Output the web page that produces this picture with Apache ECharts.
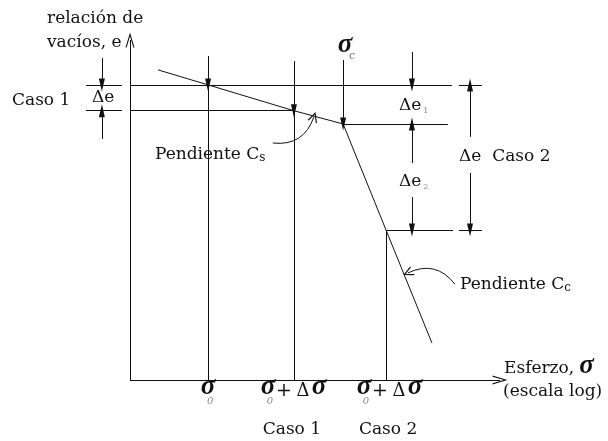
<!DOCTYPE html>
<html>
<head>
<meta charset="utf-8">
<script src="https://cdn.jsdelivr.net/npm/echarts@6/dist/echarts.min.js"></script>
<style>
  html, body { margin: 0; padding: 0; background: #fff; }
  #chart { width: 608px; height: 441px; }
</style>
</head>
<body>
<div id="chart"></div>
<script>
// Stress positions on the logarithmic axis
const sigma0 = 2.11;      // σ0
const sigmaCase1 = 4.43;  // σ0 + Δσ (caso 1)
const sigmaC = 5.76;      // σc, preconsolidation stress
const sigmaCase2 = 6.92;  // σ0 + Δσ (caso 2)

// Void ratio levels
const e0 = 8.68;
const e1 = 7.92;
const eC = 7.53;
const e2 = 4.41;

// e – log σ curve: recompression branch (slope Cs) then virgin branch (slope Cc)
const curveLogSigma = [0.76, sigma0, sigmaCase1, sigmaC, sigmaCase2, 8.16];
const curveVoidRatio = [9.12, e0, e1, eC, e2, 1.09];

// Labels along the stress axis
const stressTickLabels = ['σ0', 'σ0 + Δσ', 'σ0 + Δσ'];
const caseLabels = ['', 'Caso 1', 'Caso 2'];

const INK = '#111';
const FONT = '"DejaVu Serif", serif';
const SIGMA_FONT = '"Liberation Serif", serif';

const chart = echarts.init(document.getElementById('chart'), null, { renderer: 'canvas' });

const curve = curveLogSigma.map((x, i) => [x, curveVoidRatio[i]]);
const seg = (a, b) => [{ coord: a }, { coord: b }];

const markBase = {
  silent: true,
  animation: false,
  label: { show: false },
  emphasis: { disabled: true }
};

// Open chevron head (tip at the top of the symbol box)
const CHEVRON = 'path://M5,0 L10,14 L8.7,14 L5,3.6 L1.3,14 L0,14 Z';
// Narrow filled head for dimension arrows
const SOLID = 'path://M5,0 L10,14 L0,14 Z';

const option = {
  animation: false,
  grid: { left: 0.5, right: 108, top: 40, bottom: 61 },
  xAxis: { type: 'value', min: -3.5, max: 10, show: false },
  yAxis: { type: 'value', min: 0, max: 10, show: false },
  series: [
    {
      name: 'curva',
      type: 'line',
      data: curve,
      symbol: 'none',
      silent: true,
      lineStyle: { color: INK, width: 1 }
    },
    {
      name: 'ejes',
      type: 'line',
      data: [],
      markLine: Object.assign({}, markBase, {
        symbol: ['none', CHEVRON],
        symbolSize: [9, 15],
        lineStyle: { color: INK, width: 1, type: 'solid' },
        data: [seg([0, 0], [10, 0]), seg([0, 0], [0, 10])]
      })
    },
    {
      name: 'guias',
      type: 'line',
      data: [],
      markLine: Object.assign({}, markBase, {
        symbol: ['none', 'none'],
        lineStyle: { color: INK, width: 1, type: 'solid' },
        data: [
          seg([0, e0], [8.70, e0]),
          seg([0, e1], [sigmaCase1, e1]),
          seg([sigmaC, eC], [8.59, eC]),
          seg([sigmaCase2, e2], [8.73, e2]),
          seg([8.89, e0], [9.51, e0]),
          seg([8.89, e2], [9.51, e2]),
          seg([-1.19, e0], [-0.22, e0]),
          seg([-1.19, e1], [-0.22, e1]),
          seg([sigma0, 0], [sigma0, e0]),
          seg([sigmaCase1, 0], [sigmaCase1, e1]),
          seg([sigmaCase2, 0], [sigmaCase2, e2])
        ]
      })
    },
    {
      name: 'cotas',
      type: 'line',
      data: [],
      markLine: Object.assign({}, markBase, {
        symbol: ['none', SOLID],
        symbolSize: [6, 13],
        lineStyle: { color: INK, width: 1, type: 'solid' },
        data: [
          seg([sigma0, 9.53], [sigma0, e0]),
          seg([sigmaCase1, 9.38], [sigmaCase1, e1]),
          seg([sigmaC, 9.41], [sigmaC, eC]),
          seg([-0.76, 9.47], [-0.76, e0]),
          seg([-0.76, 7.09], [-0.76, e1]),
          seg([7.62, 9.65], [7.62, e0]),
          seg([7.62, 6.38], [7.62, eC]),
          seg([7.62, 5.38], [7.62, e2]),
          seg([9.19, 7.15], [9.19, e0]),
          seg([9.19, 6.09], [9.19, e2])
        ]
      })
    },
    {
      // curved leaders pointing at each slope
      name: 'pendientes',
      type: 'lines',
      coordinateSystem: 'cartesian2d',
      silent: true,
      animation: false,
      symbol: ['none', CHEVRON],
      symbolSize: [8, 10],
      lineStyle: { color: INK, width: 1, type: 'solid', opacity: 1, curveness: -0.4 },
      data: [
        { coords: [[3.86, 6.97], [4.97, 7.74]] },
        { coords: [[8.78, 2.82], [7.51, 3.15]] }
      ]
    }
  ]
};

chart.setOption(option);

// ---- text annotations ----
const measureCtx = document.createElement('canvas').getContext('2d');
function fontStr(o) {
  return (o.style || '') + ' ' + (o.weight || '') + ' ' + (o.size || 17) + 'px ' + (o.family || FONT);
}
function width(s, o) {
  measureCtx.font = fontStr(o || {});
  return measureCtx.measureText(s).width;
}
function label(x, y, s, o) {
  o = o || {};
  return {
    type: 'text', x: x, y: y, silent: true, z: 10,
    style: {
      text: s,
      fill: o.fill || INK,
      font: fontStr(o),
      align: o.align || 'left',
      verticalAlign: 'middle'
    }
  };
}
const sigmaStyle = { style: 'italic', weight: 'bold', size: 27, family: SIGMA_FONT, align: 'center' };
const subStyle = { style: 'italic', size: 10, fill: '#8a8a8a', align: 'center' };

const px = v => chart.convertToPixel({ xAxisIndex: 0 }, v);
const g = [];

// y-axis title
g.push(label(47, 19, 'relación de'));
g.push(label(47, 43, 'vacíos, e'));

// Caso 1 bracket on the left
g.push(label(12, 101, 'Caso 1'));
g.push(label(92, 98, 'Δe'));

// σc above the break point
const xc = px(sigmaC);
g.push(label(xc + 2, 45, 'σ', sigmaStyle));
g.push(label(xc + 9, 56, 'c', { size: 11, fill: '#777', align: 'center' }));

// Δe1 and Δe2
g.push(label(399, 106, 'Δe'));
g.push(label(399 + width('Δe') + 2, 111, '1', { size: 8, fill: '#8a8a8a' }));
g.push(label(399, 182, 'Δe'));
g.push(label(399 + width('Δe') + 2, 187, '2', { size: 8, fill: '#8a8a8a' }));

// Δe Caso 2 on the right
g.push(label(459, 157, 'Δe  Caso 2'));

// Slope labels
function slopeLabel(x, y, sub) {
  g.push(label(x, y, 'Pendiente C'));
  g.push(label(x + width('Pendiente C'), y + 3, sub, { size: 12 }));
}
slopeLabel(155, 155, 's');
slopeLabel(460, 285, 'c');

// Stress axis title
g.push(label(504, 369, 'Esferzo, '));
g.push(label(504 + width('Esferzo, ') + 7, 366, 'σ', sigmaStyle));
g.push(label(503, 392, '(escala log)'));

// Tick labels below the stress axis
const tickX = [sigma0, sigmaCase1, sigmaCase2];
tickX.forEach((v, i) => {
  const cx = px(v) + (i === 2 ? 4 : 0);
  const withDelta = stressTickLabels[i].indexOf('Δ') >= 0;
  if (!withDelta) {
    g.push(label(cx, 387, 'σ', sigmaStyle));
    g.push(label(cx + 2, 401, '0', subStyle));
  } else {
    g.push(label(cx - 26, 387, 'σ', sigmaStyle));
    g.push(label(cx - 24, 401, '0', subStyle));
    g.push(label(cx - 10, 391, '+', { align: 'center', size: 19 }));
    g.push(label(cx + 9, 391, 'Δ', { align: 'center', size: 18 }));
    g.push(label(cx + 25, 387, 'σ', sigmaStyle));
  }
  if (caseLabels[i]) g.push(label(cx - 2, 430, caseLabels[i], { align: 'center' }));
});

chart.setOption({ graphic: g });
</script>
</body>
</html>
